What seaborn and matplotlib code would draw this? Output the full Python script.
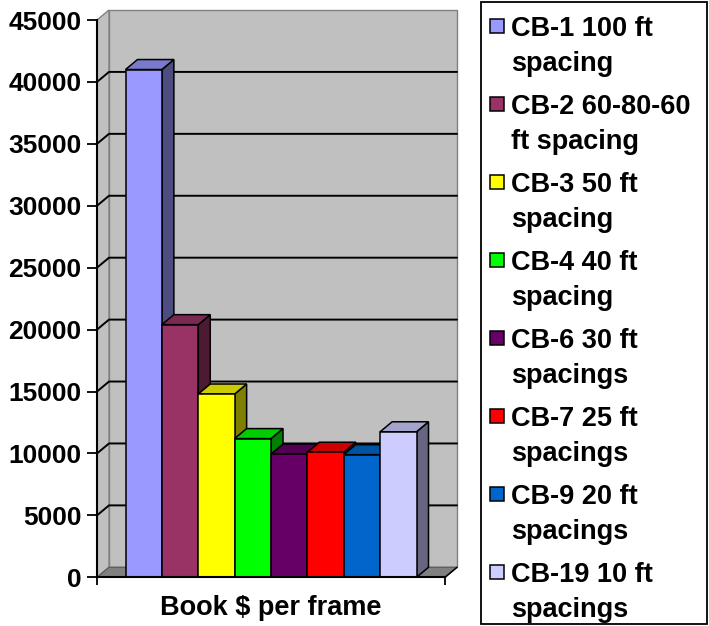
import numpy as np
import pandas as pd
import seaborn as sns
import matplotlib
matplotlib.use("Agg")
import matplotlib.pyplot as plt
from matplotlib.patches import Polygon, Rectangle
from matplotlib.colors import to_rgb

# ---- data ----
category = "Book $ per frame"
series = [
    "CB-1 100 ft spacing",
    "CB-2 60-80-60 ft spacing",
    "CB-3 50 ft spacing",
    "CB-4 40 ft spacing",
    "CB-6 30 ft spacings",
    "CB-7 25 ft spacings",
    "CB-9 20 ft spacings",
    "CB-19 10 ft spacings",
]
legend_lines = [
    ("CB-1 100 ft", "spacing"),
    ("CB-2 60-80-60", "ft spacing"),
    ("CB-3 50 ft", "spacing"),
    ("CB-4 40 ft", "spacing"),
    ("CB-6 30 ft", "spacings"),
    ("CB-7 25 ft", "spacings"),
    ("CB-9 20 ft", "spacings"),
    ("CB-19 10 ft", "spacings"),
]
values = [41000, 20400, 14800, 11200, 9950, 10100, 9900, 11750]
colors = ["#9999FF", "#993366", "#FFFF00", "#00FF00",
          "#660066", "#FF0000", "#0066CC", "#CCCCFF"]
yticks = [0, 5000, 10000, 15000, 20000, 25000, 30000, 35000, 40000, 45000]

df = pd.DataFrame({"metric": [category] * len(series),
                   "series": series, "value": values})

# ---- figure ----
sns.set_style("white")
plt.rcParams["font.family"] = ["Liberation Sans", "DejaVu Sans"]
plt.rcParams["font.weight"] = "bold"
for key in ["text.color", "axes.labelcolor", "xtick.color", "ytick.color"]:
    plt.rcParams[key] = "black"

W, H = 709, 626
fig = plt.figure(figsize=(W / 100, H / 100), dpi=100)
fig.patch.set_facecolor("white")

y0_px, ytop_px = 577.3, 20.0
ax = fig.add_axes([97 / W, (H - y0_px) / H, 348 / W, (y0_px - ytop_px) / H])

sns.barplot(data=df, x="metric", y="value", hue="series", hue_order=series,
            palette=colors, width=291 / 348, saturation=1, dodge=True,
            edgecolor="black", linewidth=1.1, legend=False, ax=ax)
bars = sorted(list(ax.patches), key=lambda p: p.get_x())

ax.set_xlim(-0.5, 0.5)
ax.set_ylim(0, 45000)
ax.set_facecolor("none")

# depth of the pseudo-3D box, in data units
DX = 12 / 348
DY = 10 / (y0_px - ytop_px) * 45000

wall = "#C0C0C0"
wall_edge = "#808080"

# back wall, left wall and floor
ax.add_patch(Rectangle((-0.5 + DX, DY), 1.0, 45000, facecolor=wall,
                       edgecolor=wall_edge, lw=1.0, zorder=1, clip_on=False))
ax.add_patch(Polygon([(-0.5, 0), (-0.5, 45000), (-0.5 + DX, 45000 + DY),
                      (-0.5 + DX, DY)], closed=True, facecolor=wall,
                     edgecolor=wall_edge, lw=1.0, zorder=1, clip_on=False))
ax.add_patch(Polygon([(-0.5, 0), (0.5, 0), (0.5 + DX, DY), (-0.5 + DX, DY)],
                     closed=True, facecolor="#808080", edgecolor="#606060",
                     lw=1.0, zorder=1.5, clip_on=False))
ax.plot([0.5, 0.5 + DX], [0, DY], color="black", lw=1.1, zorder=1.6,
        clip_on=False)

# gridlines running across the left and back walls
for v in yticks[1:-1]:
    ax.plot([-0.5, -0.5 + DX, 0.5 + DX], [v, v + DY, v + DY],
            color="black", lw=1.4, zorder=2, clip_on=False)

# bars: front face from seaborn, plus top and side faces
for i, bar in enumerate(bars):
    x0, w, h = bar.get_x(), bar.get_width(), bar.get_height()
    fc = np.array(to_rgb(bar.get_facecolor()))
    top = Polygon([(x0, h), (x0 + w, h), (x0 + w + DX, h + DY), (x0 + DX, h + DY)],
                  closed=True, facecolor=fc * 0.8, edgecolor="black",
                  lw=1.1, zorder=10 + 3 * i, clip_on=False)
    side = Polygon([(x0 + w, 0), (x0 + w + DX, DY), (x0 + w + DX, h + DY), (x0 + w, h)],
                   closed=True, facecolor=fc * 0.5, edgecolor="black",
                   lw=1.1, zorder=10 + 3 * i, clip_on=False)
    ax.add_patch(side)
    ax.add_patch(top)
    bar.set_zorder(10 + 3 * i + 1)
    bar.set_clip_on(False)

# axes, ticks and labels
for s in ["top", "right"]:
    ax.spines[s].set_visible(False)
for s in ["left", "bottom"]:
    ax.spines[s].set_color("black")
    ax.spines[s].set_linewidth(1.5)
    ax.spines[s].set_zorder(40)

ax.set_yticks(yticks)
ax.set_yticklabels([str(v) for v in yticks], fontsize=19, fontweight="bold")
ax.tick_params(axis="y", direction="out", length=7, width=1.3,
               color="black", labelcolor="black", pad=4, left=True)

ax.set_xticks([0])
ax.set_xticklabels([category], fontsize=19.5, fontweight="bold")
ax.set_xticks([-0.5, 0.5], minor=True)
ax.tick_params(axis="x", which="major", length=0, pad=13, bottom=True,
               labelcolor="black")
ax.tick_params(axis="x", which="minor", direction="out", length=6,
               width=1.3, color="black", bottom=True)
ax.set_xlabel("")
ax.set_ylabel("")

# legend box
fig.add_artist(Rectangle((481 / W, 2 / H), (707.5 - 481) / W, (624 - 2) / H,
                         transform=fig.transFigure, fill=False,
                         edgecolor="black", lw=1.3))
for i, (l1, l2) in enumerate(legend_lines):
    b1 = 36 + 78 * i
    b2 = b1 + 35
    fig.add_artist(Rectangle((490 / W, 1 - (b1 - 3) / H), 14 / W, 14 / H,
                             transform=fig.transFigure, facecolor=colors[i],
                             edgecolor="black", lw=1.1))
    fig.text(511 / W, 1 - b1 / H, l1, fontsize=19.5, fontweight="bold",
             va="baseline", ha="left", color="black")
    fig.text(511 / W, 1 - b2 / H, l2, fontsize=19.5, fontweight="bold",
             va="baseline", ha="left", color="black")

fig.savefig("out.png", dpi=100, facecolor="white")
